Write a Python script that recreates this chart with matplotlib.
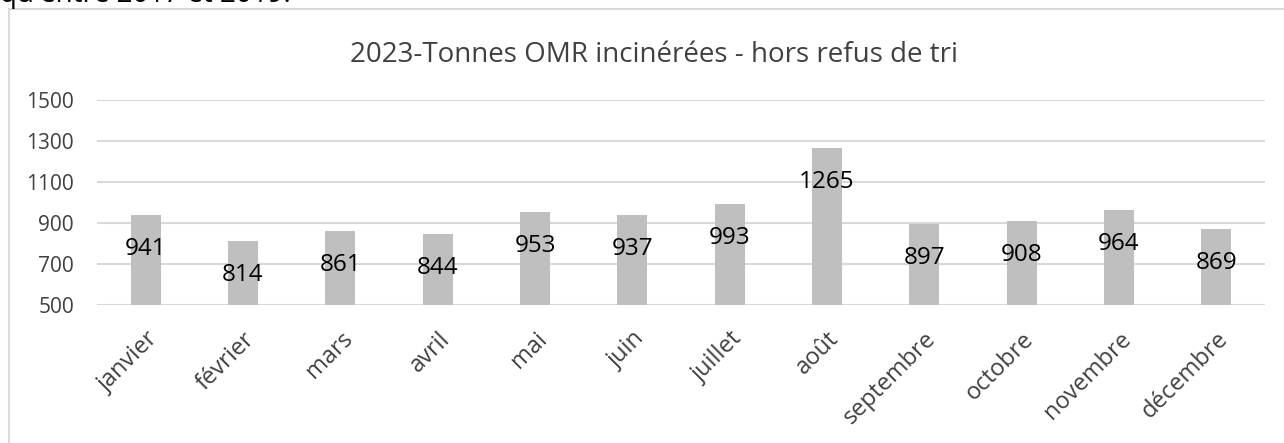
import matplotlib.pyplot as plt
from matplotlib.patches import Rectangle

plt.rcParams['font.family'] = ['Open Sans', 'DejaVu Sans']

months = ['janvier', 'février', 'mars', 'avril', 'mai', 'juin', 'juillet',
          'août', 'septembre', 'octobre', 'novembre', 'décembre']
tonnes = [941, 814, 861, 844, 953, 937, 993, 1265, 897, 908, 964, 869]
yticks = [500, 700, 900, 1100, 1300, 1500]

title = '2023-Tonnes OMR incinérées - hors refus de tri'

fig = plt.figure(figsize=(12.84, 4.43), dpi=100)

# text of the page above the chart, cut by the crop
fig.text(0.0, 1 - 2 / 443, "qu'entre 2017 et 2019.", fontsize=20,
         color='black', va='baseline', ha='left')

# chart frame
fig.patches.append(Rectangle((9 / 1284, -0.1), 1.2, 1 - 9 / 443 + 0.1,
                             transform=fig.transFigure, fill=False,
                             edgecolor='#d9d9d9', linewidth=1.5))

ax = fig.add_axes([97 / 1284, 1 - 305 / 443, 1168 / 1284, 205 / 443])
x = range(len(months))
ax.bar(x, tonnes, width=0.31, color='#bfbfbf', zorder=2)

for xi, v in zip(x, tonnes):
    ax.annotate(str(v), (xi, v), xytext=(0, -34), textcoords='offset pixels',
                ha='center', va='center', fontsize=17.5, color='black', zorder=3)

ax.set_xlim(-0.5, len(months) - 0.5)
ax.set_ylim(500, 1500)
ax.set_yticks(yticks)
ax.set_yticklabels([str(t) for t in yticks], fontsize=15, color='#404040')
ax.set_xticks(list(x))
ax.set_xticklabels(months, rotation=45, ha='right', va='top',
                   rotation_mode='anchor', fontsize=17, color='#404040')
ax.tick_params(length=0, axis='y', pad=16.5)
ax.tick_params(length=0, axis='x', pad=16)
ax.grid(axis='y', color='#d9d9d9', linewidth=1.5, zorder=1)
ax.set_axisbelow(True)
for s in ax.spines.values():
    s.set_visible(False)

fig.text(654 / 1284, 1 - 55 / 443, title, fontsize=20, color='#404040',
         ha='center', va='center')

fig.savefig('out.png', dpi=100)
